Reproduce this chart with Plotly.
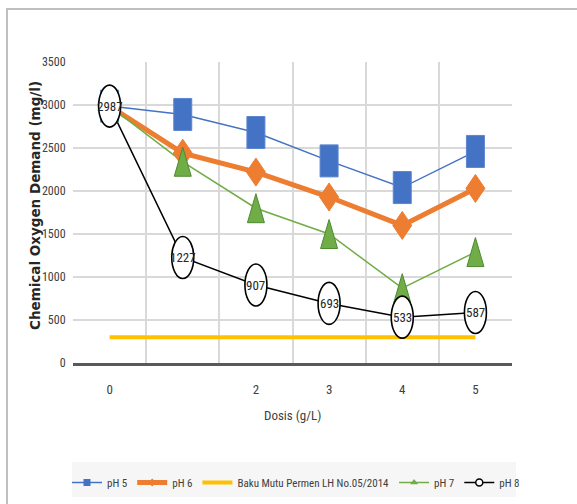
import plotly.graph_objects as go

# Dose categories (g/L) and COD readings (mg/l) per pH
dosis = [0, 1, 2, 3, 4, 5]
dosis_labels = ["0", "", "2", "3", "4", "5"]
ph5 = [2987, 2890, 2680, 2350, 2040, 2460]
ph6 = [2987, 2440, 2220, 1930, 1600, 2030]
ph7 = [2987, 2340, 1800, 1500, 870, 1290]
ph8 = [2987, 1227, 907, 693, 533, 587]
baku_mutu = [300, 300, 300, 300, 300, 300]

W, H = 577, 504
ML, MR, MT, MB = 73, 65, 62, 141
PW, PH = W - ML - MR, H - MT - MB

NARROW = "Roboto Condensed, DejaVu Sans Condensed, sans-serif"
TXT = "#404040"

BLUE, ORANGE, YELLOW, GREEN = "#4472C4", "#ED7D31", "#FFC000", "#70AD47"


def px_x(p):
    return (p - ML) / PW


def px_y(p):
    return (H - MB - p) / PH


fig = go.Figure()
fig.add_trace(go.Scatter(x=dosis, y=ph5, name="pH 5", mode="lines+markers",
                         line=dict(color=BLUE, width=1.5),
                         marker=dict(symbol="square", size=7, color=BLUE)))
fig.add_trace(go.Scatter(x=dosis, y=ph6, name="pH 6", mode="lines+markers",
                         line=dict(color=ORANGE, width=5),
                         marker=dict(symbol="diamond", size=6, color=ORANGE)))
fig.add_trace(go.Scatter(x=dosis, y=baku_mutu, name="Baku Mutu Permen LH No.05/2014",
                         mode="lines", line=dict(color=YELLOW, width=4)))
fig.add_trace(go.Scatter(x=dosis, y=ph7, name="pH 7", mode="lines+markers",
                         line=dict(color=GREEN, width=1.5),
                         marker=dict(symbol="triangle-up", size=7, color=GREEN)))
fig.add_trace(go.Scatter(x=dosis, y=ph8, name="pH 8", mode="lines+markers",
                         line=dict(color="black", width=1.5),
                         marker=dict(symbol="circle", size=7, color="white",
                                     line=dict(color="black", width=1.5))))

shapes = []


def marker_path(kind, w, h):
    a, b = w / 2, h / 2
    if kind == "square":
        return f"M{-a},{-b} L{a},{-b} L{a},{b} L{-a},{b} Z"
    if kind == "diamond":
        return f"M0,{b} L{a},0 L0,{-b} L{-a},0 Z"
    if kind == "triangle":
        return f"M{-a},{-b} L{a},{-b} L0,{b} Z"
    raise ValueError(kind)


def add_markers(xs, ys, kind, w, h, fill, edge, lw=1):
    for xv, yv in zip(xs, ys):
        if kind == "ellipse":
            shapes.append(dict(type="circle", xref="x", yref="y",
                               xsizemode="pixel", ysizemode="pixel",
                               xanchor=xv, yanchor=yv,
                               x0=-w / 2, x1=w / 2, y0=-h / 2, y1=h / 2,
                               fillcolor=fill, line=dict(color=edge, width=lw),
                               layer="above"))
        else:
            shapes.append(dict(type="path", xref="x", yref="y",
                               xsizemode="pixel", ysizemode="pixel",
                               xanchor=xv, yanchor=yv,
                               path=marker_path(kind, w, h),
                               fillcolor=fill, line=dict(color=edge, width=lw),
                               layer="above"))


add_markers(dosis, ph5, "square", 18, 32, BLUE, "#5B86D0")
add_markers(dosis, ph6, "diamond", 19, 28, ORANGE, ORANGE)
add_markers(dosis, ph7, "triangle", 17, 29, GREEN, "#4E8A32")
add_markers(dosis, ph8, "ellipse", 22, 42, "white", "black", 1.6)

# chart frame (top and left edges visible)
shapes.append(dict(type="rect", xref="paper", yref="paper",
                   x0=px_x(7), x1=px_x(W + 20), y0=px_y(H + 20), y1=px_y(9),
                   line=dict(color="#BFBFBF", width=2), layer="below"))
# legend panel
shapes.append(dict(type="rect", xref="paper", yref="paper",
                   x0=px_x(72), x1=px_x(516), y0=px_y(497), y1=px_y(462),
                   fillcolor="#F6F6F6", line=dict(width=0), layer="below"))

annotations = []
for xv, yv in zip(dosis, ph8):
    annotations.append(dict(x=xv, y=yv, xref="x", yref="y", text=str(yv),
                            showarrow=False,
                            font=dict(family=NARROW, size=13, color="#262626")))

annotations.append(dict(x=px_x(35), y=px_y(206), xref="paper", yref="paper",
                        xanchor="center", yanchor="middle",
                        text="<b>Chemical Oxygen Demand (mg/l)</b>", textangle=-90,
                        showarrow=False,
                        font=dict(family="DejaVu Sans, sans-serif", size=13.5, color="#262626")))
annotations.append(dict(x=px_x(292), y=px_y(415), xref="paper", yref="paper",
                        xanchor="center", yanchor="middle",
                        text="Dosis (g/L)", showarrow=False,
                        font=dict(family=NARROW, size=13, color=TXT)))

fig.update_layout(
    width=W, height=H,
    margin=dict(l=ML, r=MR, t=MT, b=MB, autoexpand=False),
    paper_bgcolor="white", plot_bgcolor="white",
    shapes=shapes, annotations=annotations,
    showlegend=True,
    legend=dict(orientation="h", x=px_x(67), xanchor="left",
                y=px_y(468), yanchor="top", bgcolor="rgba(0,0,0,0)",
                font=dict(family=NARROW, size=11, color=TXT),
                itemwidth=30, tracegroupgap=0),
    xaxis=dict(range=[-0.5, 5.5], tickmode="array", tickvals=dosis, ticktext=dosis_labels,
               showgrid=False, zeroline=False,
               ticks="outside", ticklen=12, tickcolor="rgba(0,0,0,0)",
               showline=True, linecolor="#595959", linewidth=3,
               tickfont=dict(family=NARROW, size=13, color=TXT),
               minor=dict(tickmode="linear", tick0=-0.5, dtick=1, showgrid=True,
                          gridcolor="#D9D9D9", gridwidth=1.5, ticks="")),
    yaxis=dict(range=[0, 3500], tickmode="linear", tick0=0, dtick=500,
               showgrid=True, gridcolor="#D9D9D9", gridwidth=1.5,
               zeroline=False, showline=False,
               ticks="outside", ticklen=4, tickcolor="rgba(0,0,0,0)",
               tickfont=dict(family=NARROW, size=12, color=TXT)),
)

fig.write_html("out.html")
